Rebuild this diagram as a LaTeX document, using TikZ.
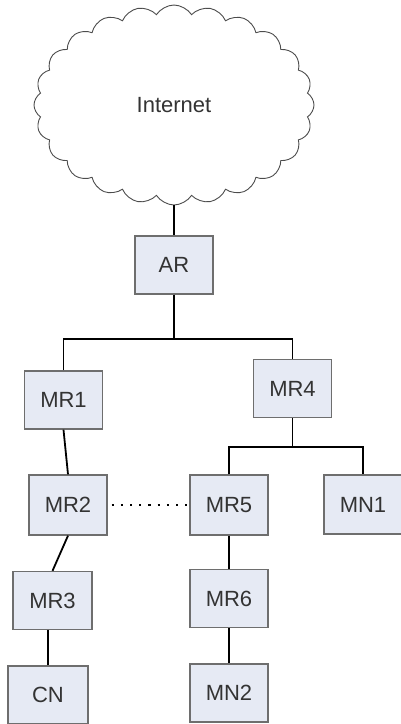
\documentclass[tikz,border=0pt]{standalone}
\usepackage{fontspec}
\setmainfont{Liberation Sans}
\usetikzlibrary{shapes.symbols}
\definecolor{boxfill}{HTML}{E6EAF4}
\definecolor{boxline}{HTML}{6E6E6E}
\definecolor{txt}{HTML}{333333}
\begin{document}
\begin{tikzpicture}[x=1pt,y=-1pt,
  netbox/.style={draw=boxline, line width=1.3pt, fill=boxfill, minimum width=78pt, minimum height=58pt, inner sep=0pt, text=txt, font=\fontsize{22}{24}\selectfont},
  wire/.style={line width=1.8pt, black},
  dotwire/.style={line width=2.2pt, black, dash pattern=on 2.2pt off 7pt}]
\useasboundingbox (0,0) rectangle (400,724);
\node[cloud, draw=black!70, line width=0.9pt, cloud puffs=24, cloud puff arc=115, minimum width=280pt, minimum height=200pt, inner sep=0pt, text=txt, font=\fontsize{22}{24}\selectfont] (net) at (174,105) {Internet};
\node[netbox] (AR) at (174,265) {AR};
\node[netbox] (MR1) at (63.5,400) {MR1};
\node[netbox] (MR4) at (292.5,388.5) {MR4};
\node[netbox, minimum height=60pt] (MR2) at (68,505) {MR2};
\node[netbox, minimum height=60pt] (MR5) at (229,505) {MR5};
\node[netbox, minimum height=59pt] (MN1) at (363,504.5) {MN1};
\node[netbox, minimum width=79pt] (MR3) at (52.5,600.5) {MR3};
\node[netbox] (MR6) at (229,598.5) {MR6};
\node[netbox, minimum width=80pt] (CN) at (48,695) {CN};
\node[netbox] (MN2) at (229,693) {MN2};
\coordinate (bus1) at (174,339);
\coordinate (bus2) at (292.5,447);
\draw[wire] (net.south) -- (AR.north);
\draw[wire] (AR.south) -- (bus1);
\draw[wire] (MR1.north) |- (bus1) -| (MR4.north);
\draw[wire] (MR1.south) -- (MR2.north);
\draw[wire] (MR4.south) -- (bus2);
\draw[wire] (MR5.north) |- (bus2) -| (MN1.north);
\draw[dotwire] ([xshift=4pt]MR2.east) -- (MR5.west);
\draw[wire] (MR2.south) -- (MR3.north);
\draw[wire] (CN.north) -- (CN.north |- MR3.south);
\draw[wire] (MR5.south) -- (MR6.north);
\draw[wire] (MR6.south) -- (MN2.north);
\end{tikzpicture}
\end{document}
